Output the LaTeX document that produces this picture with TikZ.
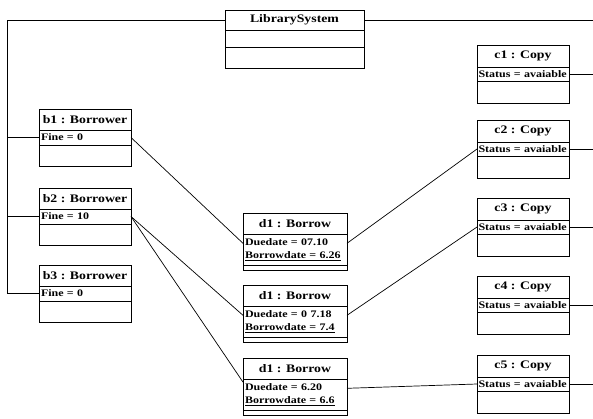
\documentclass[tikz,border=0pt]{standalone}
\usepackage{fontspec}
\setmainfont[FakeStretch=1.2]{Liberation Serif}
\usetikzlibrary{positioning,calc}

\begin{document}
\begin{tikzpicture}[
    x=1pt, y=1pt,
    box/.style={draw, line width=0.9pt, outer sep=0pt, inner sep=0pt},
    objname/.style={box, font=\bfseries\fontsize{11.5}{13}\selectfont},
    objattr/.style={box, inner xsep=2pt, align=left, font=\bfseries\fontsize{10}{13}\selectfont},
    link/.style={line width=0.7pt}
]
    \useasboundingbox (0,0) rectangle (593,418);

    % library system
    \node[objname, minimum width=139pt, minimum height=20pt, anchor=north] (sys) at (294.5,408) {LibrarySystem};
    \node[box, minimum width=139pt, minimum height=17pt, below=0pt of sys] (sysattr) {};
    \node[box, minimum width=139pt, minimum height=21pt, below=0pt of sysattr] (sysops) {};

    % borrowers
    \foreach \i/\y/\fine in {1/309/0, 2/230/10, 3/153/0} {
        \node[objname, minimum width=92pt, minimum height=21pt, anchor=north] (b\i) at (85,\y) {b\i\ : Borrower};
        \node[objattr, text width=88pt, minimum height=15pt, below=0pt of b\i] (fine\i) {Fine = \fine};
        \node[box, minimum width=92pt, minimum height=21pt, below=0pt of fine\i] (bops\i) {};
    }

    % borrows
    \foreach \i/\y/\due/\bor in {1/205/07.10/6.26, 2/133/0 7.18/7.4, 3/60/6.20/6.6} {
        \node[objname, minimum width=104pt, minimum height=21pt, anchor=north] (d\i) at (295,\y) {d1 : Borrow};
        \node[objattr, text width=100pt, minimum height=31pt, below=0pt of d\i] (due\i) {Duedate = \due\\\underline{Borrowdate = \bor}};
        \node[box, minimum width=104pt, minimum height=5pt, below=0pt of due\i] (dops\i) {};
    }

    % copies
    \foreach \i/\y in {1/373, 2/298, 3/220, 4/142, 5/63} {
        \node[objname, minimum width=92pt, minimum height=22pt, anchor=north] (c\i) at (523,\y) {c\i\ : Copy};
        \node[objattr, inner xsep=1.5pt, text width=89pt, minimum height=14pt, below=0pt of c\i] (status\i) {Status = avaiable};
        \node[box, minimum width=92pt, minimum height=22pt, below=0pt of status\i] (cops\i) {};
    }

    % links
    \coordinate (trunk) at (7,0);
    \coordinate (edge) at (593,0);
    \draw[link] (sys.west) -| (trunk |- fine3.west) -- (fine3.west);
    \draw[link] (trunk |- fine1.west) -- (fine1.west);
    \draw[link] (trunk |- fine2.west) -- (fine2.west);
    \draw[link] (sys.east) -- (sys.east -| edge);
    \foreach \i in {1,...,5}
        \draw[link] (status\i.east) -- (status\i.east -| edge);

    \draw[link] (fine1.east) -- ($(due1.north west)!0.3!(due1.south west)$);
    \draw[link] (fine2.east) -- ($(due2.north west)!0.3!(due2.south west)$);
    \draw[link] (fine2.east) -- ($(due3.north west)!0.1!(due3.south west)$);
    \draw[link] ($(due1.north east)!0.3!(due1.south east)$) -- (status2.west);
    \draw[link] ($(due2.north east)!0.3!(due2.south east)$) -- (status3.west);
    \draw[link] ($(due3.north east)!0.3!(due3.south east)$) -- (status5.west);
\end{tikzpicture}
\end{document}
